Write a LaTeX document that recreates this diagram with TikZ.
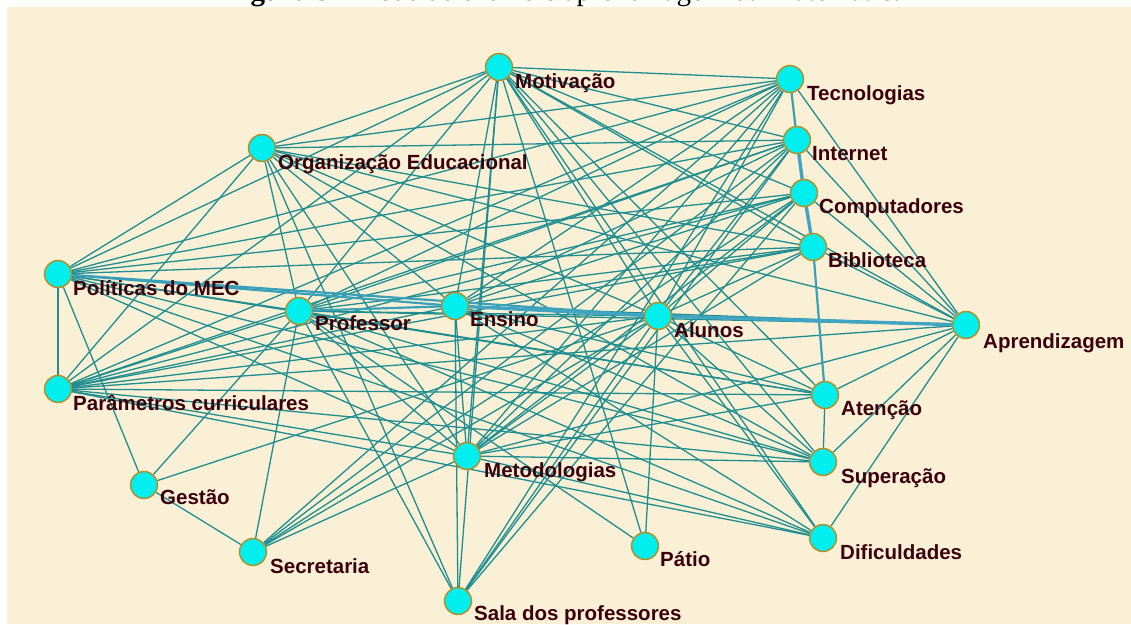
\documentclass[tikz,border=0pt]{standalone}
\usepackage{fontspec}
\setmainfont{Liberation Sans}
\newfontfamily\capfont{Liberation Serif}
\definecolor{paper}{RGB}{250,240,214}
\definecolor{edge}{RGB}{30,142,145}
\definecolor{heavy}{RGB}{64,165,195}
\definecolor{vfill}{RGB}{0,238,238}
\definecolor{vline}{RGB}{185,140,30}
\definecolor{ink}{RGB}{60,0,12}
\pgfdeclarelayer{bg}
\pgfdeclarelayer{edges}
\pgfsetlayers{bg,edges,main}
\begin{document}
\begin{tikzpicture}[x=1pt,y=-1pt,
  vtx/.style={circle,fill=vfill,draw=vline,line width=1.4pt,minimum size=27pt,inner sep=0pt},
  lbl/.style={anchor=base west,inner sep=0pt,text=ink,font=\fontsize{20.5}{23}\selectfont\bfseries},
  link/.style={draw=edge,line width=1.3pt},
  bold link/.style={draw=heavy,line width=3.4pt},
  mid link/.style={draw=heavy!80!edge,line width=2.2pt}]
\useasboundingbox (0,0) rectangle (1131,624);
\clip (0,0) rectangle (1131,624);

% page and the cut-off caption above the figure
\begin{pgfonlayer}{bg}
  \fill[white] (0,0) rectangle (1131,624);
  \fill[paper] (7,7) rectangle (1131,624);
\end{pgfonlayer}
\node[anchor=base,inner sep=0pt,font=\capfont\fontsize{29}{30}\selectfont] (cap) at (565,0.5)
  {\textbf{Figura 5} – Rede de ensino e aprendizagem da Matemática};

% vertices
\node[vtx] (Mo) at (499,67) {};
\node[vtx] (Te) at (790,79) {};
\node[vtx] (In) at (797,140) {};
\node[vtx] (Co) at (804,193) {};
\node[vtx] (Bi) at (813,247) {};
\node[vtx] (Ap) at (966,325) {};
\node[vtx] (At) at (825,395) {};
\node[vtx] (Su) at (823,462) {};
\node[vtx] (Di) at (823,538) {};
\node[vtx] (Or) at (262,148) {};
\node[vtx] (Po) at (58,274) {};
\node[vtx] (Pr) at (299,311) {};
\node[vtx] (Pa) at (58,389) {};
\node[vtx] (Ge) at (144,485) {};
\node[vtx] (Se) at (253,552) {};
\node[vtx] (En) at (455,306) {};
\node[vtx] (Al) at (658,316) {};
\node[vtx] (Me) at (467,456) {};
\node[vtx] (Pt) at (645,546) {};
\node[vtx] (Sa) at (458,601) {};

% labels
\node[lbl] (Mo-t) at (515,88) {Motivação};
\node[lbl] (Te-t) at (807,100) {Tecnologias};
\node[lbl] (In-t) at (812,160) {Internet};
\node[lbl] (Co-t) at (819,213) {Computadores};
\node[lbl] (Bi-t) at (828,267) {Biblioteca};
\node[lbl] (Ap-t) at (983,348) {Aprendizagem};
\node[lbl] (At-t) at (841,415) {Atenção};
\node[lbl] (Su-t) at (841,483) {Superação};
\node[lbl] (Di-t) at (840,559) {Dificuldades};
\node[lbl] (Or-t) at (278,169) {Organização Educacional};
\node[lbl] (Po-t) at (73,295) {Políticas do MEC};
\node[lbl] (Pr-t) at (315,330) {Professor};
\node[lbl] (Pa-t) at (73,410) {Parâmetros curriculares};
\node[lbl] (Ge-t) at (160,504) {Gestão};
\node[lbl] (Se-t) at (270,573) {Secretaria};
\node[lbl] (En-t) at (470,326) {Ensino};
\node[lbl] (Al-t) at (674,337) {Alunos};
\node[lbl] (Me-t) at (484,477) {Metodologias};
\node[lbl] (Pt-t) at (660,566) {Pátio};
\node[lbl] (Sa-t) at (474,620) {Sala dos professores};

% connections
\begin{pgfonlayer}{edges}
\foreach \a/\b in {
  Mo/Te, Mo/In, Mo/Co, Mo/Bi, Mo/Ap, Mo/At, Mo/Su, Mo/Di, Mo/Al, Mo/Pt,
  Mo/Me, Mo/En, Mo/Pr, Mo/Or, Mo/Po, Mo/Pa, Mo/Sa,
  Te/Or, Te/Po, Te/Pr, Te/Pa, Te/En, Te/Me, Te/Al, Te/Se, Te/Sa, Te/Ap,
  In/Or, In/Po, In/Pr, In/Pa, In/En, In/Me, In/Al, In/Sa, In/Se, In/Ap,
  Co/Po, Co/Pr, Co/Pa, Co/En, Co/Me, Co/Al, Co/Sa, Co/Se, Co/Ap,
  Bi/Or, Bi/Po, Bi/Pr, Bi/Pa, Bi/En, Bi/Me, Bi/Al, Bi/Ap,
  Ap/Pr, Ap/En, Ap/Pa, Ap/Me, Ap/Su, Ap/Di, Ap/Or, Ap/At,
  At/Po, At/Pr, At/Pa, At/En, At/Me, At/Al, At/Su,
  Su/Po, Su/Pr, Su/Pa, Su/En, Su/Me, Su/Al, Su/Or,
  Di/Pr, Di/Me, Di/Al, Di/En, Di/Pa, Di/Po,
  Or/Po, Or/Pa, Or/Pr, Or/En, Or/Me, Or/Al, Or/Sa,
  Po/Pa, Po/Ge, Po/Pr, Po/Me,
  Pr/Pa, Pr/Al, Pr/Me, Pr/Se, Pr/Sa, Pr/Pt, Pr/Ge,
  Pa/En, Pa/Al, Pa/Me,
  Ge/Se, Ge/Al,
  Se/Al, Se/Me,
  En/Me, En/Sa,
  Al/Me, Al/Pt, Al/Sa}
  \draw[link] (\a) -- (\b);
\foreach \a/\b in {Po/En, Po/Al, Pr/En, Te/In, Bi/At}
  \draw[mid link] (\a) -- (\b);
\foreach \a/\b in {En/Al, Al/Ap, In/Co, Co/Bi}
  \draw[bold link] (\a) -- (\b);
\end{pgfonlayer}
\end{tikzpicture}
\end{document}
